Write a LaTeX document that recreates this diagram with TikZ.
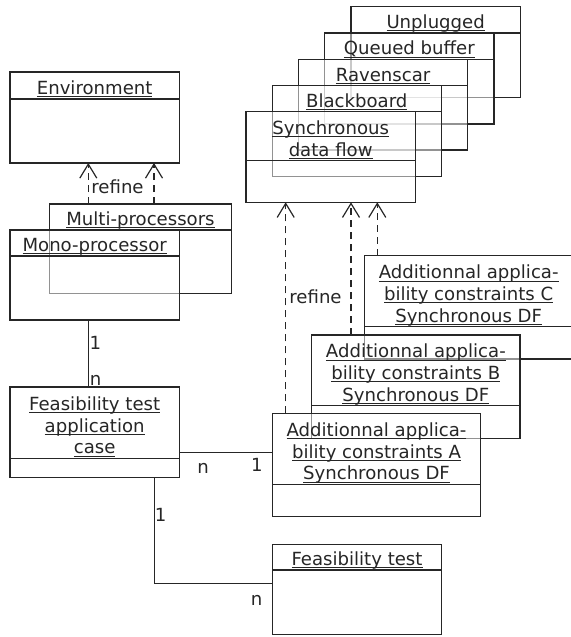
\documentclass[tikz,border=0pt]{standalone}
\usepackage{fontspec}
\setmainfont{DejaVu Sans}
\usetikzlibrary{arrows.meta,fit}
\definecolor{ink}{HTML}{262626}

% underlined title line, rule at a fixed distance below the baseline
\newcommand\ulw[1]{\setbox0=\hbox{#1}\rlap{\color{ink}\rule[-2.8bp]{\wd0}{0.9bp}}\box0}

% UML object box: name, x1, y1, x2, y2, divider y, title lines
\newcommand\umlclass[7]{%
  \node[classbox, fit={(#2,#3) (#4,#5)}] (#1) {};
  \draw[classline] (#1.west |- 0,#6) -- (#1.east |- 0,#6);
  \node[classtitle] (#1-title) at ({(#2+#4)/2},{#6-4.5})
    {\begin{tabular}[b]{@{}c@{}}#7\end{tabular}};
}

\begin{document}
\begin{tikzpicture}[x=1bp,y=-1bp,
  font=\fontsize{18.1bp}{21.8bp}\selectfont,
  classbox/.style={draw=ink, line width=1.2bp, fill=white, fill opacity=0.5,
    inner sep=0pt, outer sep=0pt},
  classline/.style={draw=ink, line width=1.2bp},
  classtitle/.style={anchor=base, inner sep=0pt, text=ink},
  dep/.style={draw=ink, line width=1.2bp, dash pattern=on 7bp off 5bp,
    -{Straight Barb[length=14bp,width=17bp]}},
  assoc/.style={draw=ink, line width=1.2bp},
  lbl/.style={inner sep=0pt, text=ink}]

\useasboundingbox (0,0) rectangle (571,637);

% left column
\umlclass{env}{10}{72}{179.3}{163}{99}{\ulw{Environment}}
\umlclass{multi}{49.3}{204}{231.7}{293.5}{230}{\ulw{Multi-processors}}
\umlclass{mono}{10}{230}{179.3}{320}{256}{\ulw{Mono-processor}}
\umlclass{ftac}{10}{387}{179.3}{477.7}{458.3}{\ulw{Feasibility test}\\ \ulw{application}\\ \ulw{case}}
\umlclass{ft}{272.3}{544.3}{441.7}{634.3}{570}{\ulw{Feasibility test}}

% stack of communication protocols, back to front
\umlclass{unpl}{351}{6.7}{520.3}{97.3}{33}{\ulw{Unplugged}}
\umlclass{queued}{324.7}{33}{494}{124}{59.3}{\ulw{Queued buffer}}
\umlclass{raven}{298.4}{59.3}{467.7}{150}{85.7}{\ulw{Ravenscar}}
\umlclass{black}{272.2}{85.7}{441.4}{176.3}{111.7}{\ulw{Blackboard}}
\umlclass{sdf}{246}{111.7}{415.3}{202.3}{160.7}{\ulw{Synchronous}\\ \ulw{data flow}}

% stack of applicability constraints, back to front
\umlclass{addC}{364.3}{255.7}{573}{359}{326.7}{\ulw{Additionnal applica-}\\ \ulw{bility constraints C}\\ \ulw{Synchronous DF}}
\umlclass{addB}{311.7}{335}{520}{438.3}{405.7}{\ulw{Additionnal applica-}\\ \ulw{bility constraints B}\\ \ulw{Synchronous DF}}
\umlclass{addA}{272.3}{413.3}{480.7}{516.7}{484.3}{\ulw{Additionnal applica-}\\ \ulw{bility constraints A}\\ \ulw{Synchronous DF}}

% refinement dependencies
\draw[dep] ([xshift=39bp]multi.north west) -- ([xshift=39bp]multi.north west |- env.south);
\draw[dep] ([xshift=104.7bp]multi.north west) -- ([xshift=104.7bp]multi.north west |- env.south);
\node[lbl] (refine1) at (117.5,186.7) {refine};

\draw[dep] ([xshift=13.4bp]addA.north west) -- ([xshift=13.4bp]addA.north west |- sdf.south);
\draw[dep] ([xshift=39.3bp]addB.north west) -- ([xshift=39.3bp]addB.north west |- sdf.south);
\draw[dep] ([xshift=13bp]addC.north west) -- ([xshift=13bp]addC.north west |- sdf.south);
\node[lbl] (refine2) at (315.5,297) {refine};

% associations
\draw[assoc] ([xshift=-6bp]mono.south) -- ([xshift=-6bp]ftac.north);
\node[lbl] (m1) at (95.5,343) {1};
\node[lbl] (mn) at (95.5,380) {n};

\coordinate (hy) at (0,452.7);
\draw[assoc] (ftac.east |- hy) -- (addA.west |- hy);
\node[lbl] (an) at (203,468) {n};
\node[lbl] (a1) at (257,465) {1};

\coordinate (bend) at (154.3,583.3);
\draw[assoc] (ftac.south -| bend) |- (ft.west |- bend);
\node[lbl] (f1) at (160.7,515) {1};
\node[lbl] (fn) at (256.7,600) {n};

\end{tikzpicture}
\end{document}
